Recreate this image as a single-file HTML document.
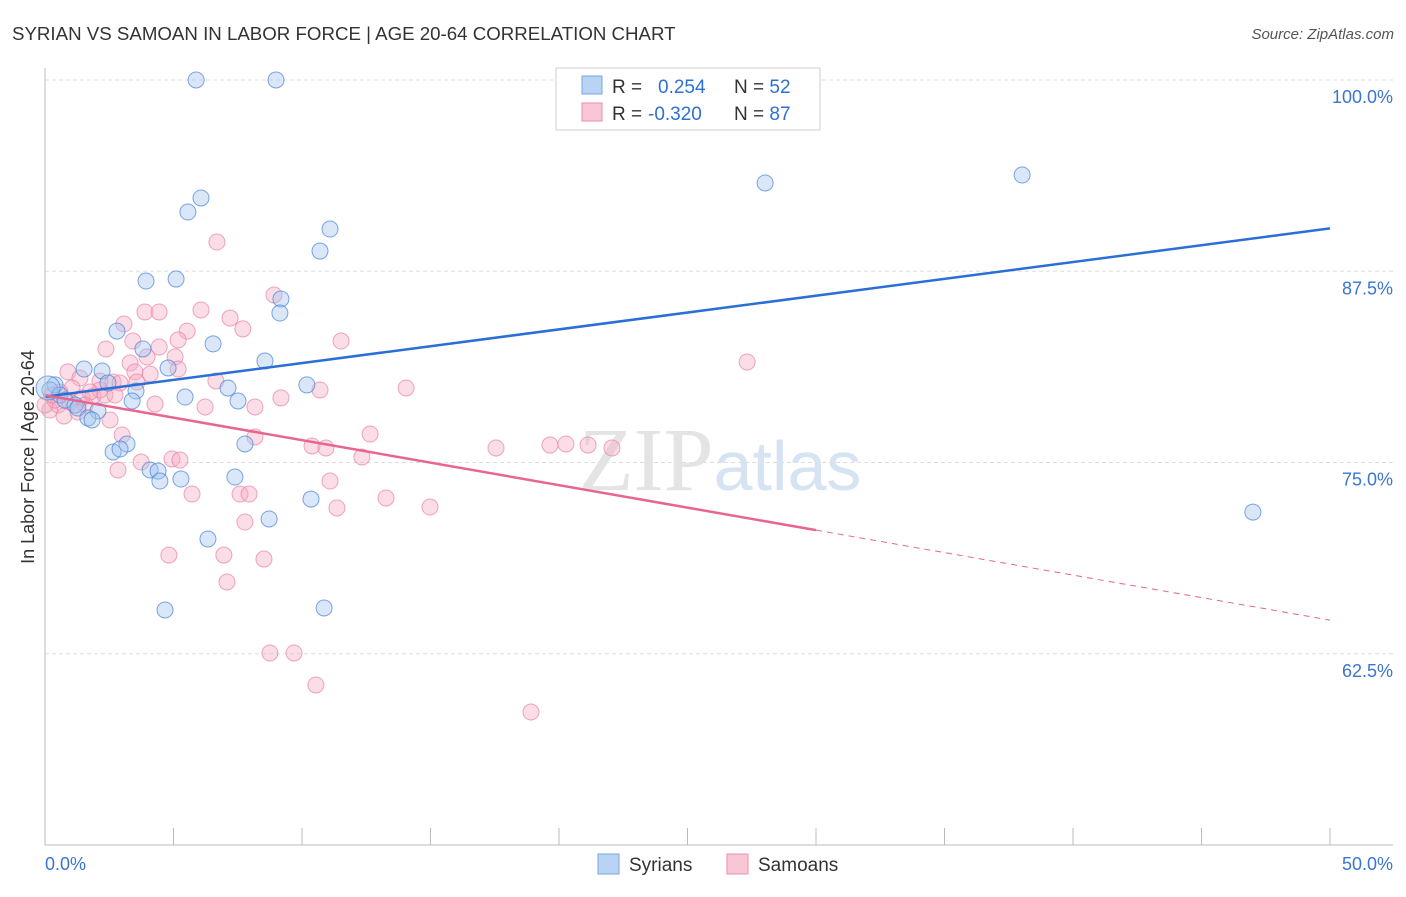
<!DOCTYPE html>
<html><head><meta charset="utf-8"><style>
body{margin:0;background:#fff;font-family:"Liberation Sans",sans-serif;}
</style></head><body>
<svg width="1406" height="892" xmlns="http://www.w3.org/2000/svg">
<text x="12" y="40" font-size="18.7" fill="#333">SYRIAN VS SAMOAN IN LABOR FORCE | AGE 20-64 CORRELATION CHART</text>
<text x="1394" y="39" font-size="15" fill="#555" font-style="italic" text-anchor="end">Source: ZipAtlas.com</text>
<g id="grid"></g>
<text x="720" y="490" font-size="90" fill="#e4e4e4" text-anchor="middle" font-family="Liberation Serif,serif">ZIP<tspan fill="#d6e3f3" font-family="Liberation Sans,sans-serif" font-size="70">atlas</tspan></text>
<g id="pts"></g>
<g id="lines"></g>
<line x1="45" y1="68" x2="45" y2="845" stroke="#bbb"/>
<line x1="45" y1="845" x2="1393" y2="845" stroke="#bbb"/>
<text x="45" y="870" font-size="18" fill="#3a75d0">0.0%</text>
<text x="1393" y="870" font-size="18" fill="#3a75d0" text-anchor="end">50.0%</text>
<text x="34" y="457" font-size="18" fill="#333" text-anchor="middle" transform="rotate(-90 34 457)">In Labor Force | Age 20-64</text>
<g>
<rect x="556" y="68" width="264" height="62" fill="#fff" stroke="#ccc"/>
<rect x="582" y="76" width="20" height="18" fill="#b9d3f5" stroke="#7aa5e0"/>
<rect x="582" y="103" width="20" height="18" fill="#f9c6d5" stroke="#eb8eab"/>
<text x="612" y="93" font-size="19" fill="#333">R = <tspan fill="#2d6fd6" x="658">0.254</tspan><tspan fill="#333" x="734">N = </tspan><tspan fill="#2d6fd6">52</tspan></text>
<text x="612" y="120" font-size="19" fill="#333">R = <tspan fill="#2d6fd6" x="648">-0.320</tspan><tspan fill="#333" x="734">N = </tspan><tspan fill="#2d6fd6">87</tspan></text>
</g>
<g>
<rect x="598" y="854" width="21" height="20" fill="#b9d3f5" stroke="#7aa5e0"/>
<text x="629" y="871" font-size="19" fill="#333">Syrians</text>
<rect x="727" y="854" width="21" height="20" fill="#f9c6d5" stroke="#eb8eab"/>
<text x="758" y="871" font-size="19" fill="#333">Samoans</text>
</g>
</svg>
<script>
const yTicks=[100,87.5,75,62.5];
const xTicks=[0,5,10,15,20,25,30,35,40,45,50];
const syrianPx=[[196,80],[276,80],[760,80],[765,183],[1022,175],[1253,512],[188,212],[201,198],[330,229],[320,251],[146,281],[176,279],[281,299],[280,313],[117,331],[213,344],[143,349],[265,361],[84,369],[102,371],[168,368],[307,385],[108,383],[228,388],[136,391],[185,397],[238,401],[132,401],[55,385],[50,390],[60,395],[65,400],[75,405],[78,408],[98,411],[88,418],[92,420],[127,444],[245,444],[113,452],[120,449],[150,470],[158,471],[160,481],[181,479],[235,477],[311,499],[269,519],[208,539],[165,610],[324,608],[48,388]];
const samoanPx=[[217,242],[274,295],[243,329],[145,312],[159,312],[201,310],[230,318],[124,324],[187,331],[341,341],[133,341],[106,349],[159,347],[147,357],[175,357],[130,363],[178,369],[68,372],[80,378],[135,372],[150,374],[113,382],[100,381],[120,383],[216,381],[137,382],[406,388],[320,390],[281,398],[155,404],[205,407],[255,407],[72,388],[60,392],[82,398],[93,396],[58,405],[50,410],[64,416],[110,420],[122,435],[255,437],[370,434],[312,446],[326,448],[362,457],[496,448],[550,445],[566,444],[588,445],[612,448],[141,462],[172,459],[180,460],[118,470],[330,481],[192,494],[240,494],[249,494],[386,498],[337,508],[430,507],[245,522],[169,555],[224,555],[264,559],[227,582],[270,653],[294,653],[316,685],[531,712],[747,362],[178,340],[100,390],[90,392],[55,400],[70,402],[85,405],[45,405],[52,395],[78,412],[105,395],[115,395]];
const syrianX=syrianPx.map(p=>+((p[0]-45)/25.7).toFixed(2));
const syrianY=syrianPx.map(p=>+(100-(p[1]-80)/15.3).toFixed(2));
const samoanX=samoanPx.map(p=>+((p[0]-45)/25.7).toFixed(2));
const samoanY=samoanPx.map(p=>+(100-(p[1]-80)/15.3).toFixed(2));
const syrianTrend=[79.3,90.3];
const samoanTrend=[79.4,64.7];
const samoanSolidEnd=30;
const NS="http://www.w3.org/2000/svg";
const X=v=>45+v*25.7, Y=v=>80+(100-v)*15.3;
function mk(t,a,parent){const e=document.createElementNS(NS,t);for(const k in a)e.setAttribute(k,a[k]);document.getElementById(parent).appendChild(e);return e;}
yTicks.forEach(t=>{
 const l=mk('line',{x1:45,x2:1393,y1:Y(t),y2:Y(t),stroke:'#ddd','stroke-dasharray':'4,3'},'grid');
 
 
 const tx=mk('text',{x:1393,y:Y(t)+23,'font-size':18,fill:'#3a75d0','text-anchor':'end'},'grid');
 tx.textContent=t.toFixed(1)+'%';
 
 
});
xTicks.forEach(t=>{
 const l=mk('line',{x1:X(t),x2:X(t),y1:828,y2:845,stroke:'#bbb'},'grid');
 
 
});
samoanX.forEach((x,i)=>{
 const c=mk('circle',{cx:X(x),cy:Y(samoanY[i]),r:8,fill:'rgba(246,170,194,0.4)',stroke:'rgba(234,130,162,0.7)'},'pts');
 
 
});
syrianX.forEach((x,i)=>{
 const c=mk('circle',{cx:X(x),cy:Y(syrianY[i]),r:i===syrianX.length-1?12:8,fill:'rgba(160,195,240,0.4)',stroke:'rgba(70,130,215,0.7)'},'pts');
 
 
});
const b=mk('line',{x1:X(0),y1:Y(syrianTrend[0]),x2:X(50),y2:Y(syrianTrend[1]),stroke:'#2a6fd6','stroke-width':2.5},'lines');


const ps=samoanTrend[0]+(samoanTrend[1]-samoanTrend[0])*samoanSolidEnd/50;
const p1=mk('line',{x1:X(0),y1:Y(samoanTrend[0]),x2:X(samoanSolidEnd),y2:Y(ps),stroke:'#e8658f','stroke-width':2.5},'lines');


const p2=mk('line',{x1:X(samoanSolidEnd),y1:Y(ps),x2:X(50),y2:Y(samoanTrend[1]),stroke:'#e8658f','stroke-width':1,'stroke-dasharray':'6,5'},'lines');


</script>
</body></html>
